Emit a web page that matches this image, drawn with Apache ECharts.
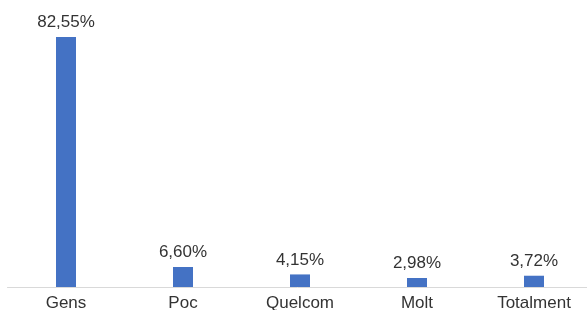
<!DOCTYPE html>
<html>
<head>
<meta charset="utf-8">
<script src="https://cdn.jsdelivr.net/npm/echarts@6/dist/echarts.min.js"></script>
<style>
  html, body { margin: 0; padding: 0; background: #fff; }
  #chart { width: 587px; height: 310px; }
</style>
</head>
<body>
<div id="chart"></div>
<script>
const categories = ['Gens', 'Poc', 'Quelcom', 'Molt', 'Totalment']
const values = [82.55, 6.60, 4.15, 2.98, 3.72]

const chart = echarts.init(document.getElementById('chart'))

const fmt = v => v.toFixed(2).replace('.', ',') + '%'

chart.setOption({
  animation: false,
  grid: {
    left: 7.5,
    width: 585,
    top: 14.4,
    bottom: 23,
    outerBoundsMode: 'none',
    containLabel: false
  },
  xAxis: {
    type: 'category',
    data: categories,
    axisLine: { lineStyle: { color: '#d9d9d9', width: 1 } },
    axisTick: { show: false },
    axisLabel: {
      color: '#333',
      fontSize: 17,
      fontFamily: 'Liberation Sans, Arial, sans-serif',
      margin: 8
    }
  },
  yAxis: {
    type: 'value',
    min: 0,
    max: 90,
    show: false,
    splitLine: { show: false }
  },
  series: [{
    type: 'bar',
    data: values,
    barWidth: 20,
    itemStyle: { color: '#4472c4' },
    label: {
      show: true,
      position: 'top',
      distance: 6,
      color: '#333',
      fontSize: 17,
      fontFamily: 'Liberation Sans, Arial, sans-serif',
      formatter: p => fmt(p.value)
    }
  }]
})
</script>
</body>
</html>
